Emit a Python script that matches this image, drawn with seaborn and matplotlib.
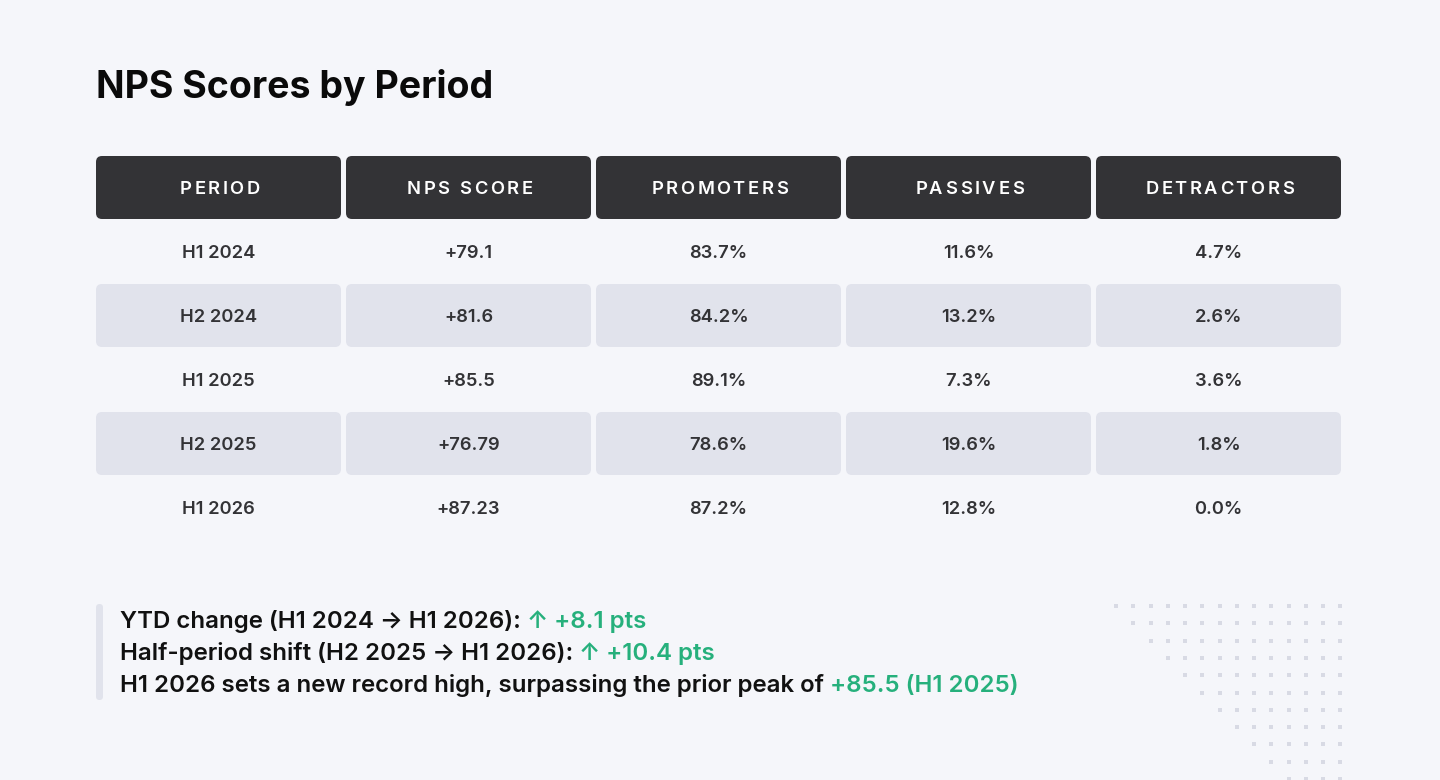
import numpy as np
import pandas as pd
import matplotlib.pyplot as plt
import seaborn as sns
from matplotlib import transforms
from matplotlib.patches import FancyBboxPatch
from matplotlib.font_manager import FontProperties, findfont
from matplotlib.ft2font import FT2Font

# Data
periods = ["H1 2024", "H2 2024", "H1 2025", "H2 2025", "H1 2026"]
nps_score = [79.1, 81.6, 85.5, 76.79, 87.23]
promoters = [83.7, 84.2, 89.1, 78.6, 87.2]
passives = [11.6, 13.2, 7.3, 19.6, 12.8]
detractors = [4.7, 2.6, 3.6, 1.8, 0.0]
columns = ["PERIOD", "NPS SCORE", "PROMOTERS", "PASSIVES", "DETRACTORS"]

BG = "#f5f6fa"
HEAD = "#333336"
BAND = "#e1e3ec"
TEXT = "#333336"
INK = "#111111"
GREEN = "#26b07c"
DOT = "#d8dae4"
FONT = ["Inter", "DejaVu Sans"]

sns.set_theme(style="white", rc={"figure.facecolor": BG, "axes.facecolor": BG})
plt.rcParams["font.family"] = FONT

W, H = 1440, 780
fig = plt.figure(figsize=(W / 100, H / 100), dpi=100)

# page axes in pixel units, for title / footer / decoration
page = fig.add_axes([0, 0, 1, 1])
page.set_xlim(0, W)
page.set_ylim(H, 0)
page.axis("off")

page.text(96, 98, "NPS Scores by Period", fontsize=27, fontweight="bold",
          color="#0a0a0a", va="baseline", ha="left")

# table axes: one unit per column, one unit per row
col_px, row_px = 250, 64
n_rows = len(periods) + 1
tab = fig.add_axes([96 / W, 1 - (156 + n_rows * row_px) / H,
                    5 * col_px / W, n_rows * row_px / H])
tab.set_xlim(0, 5)
tab.set_ylim(n_rows, 0)
tab.axis("off")

cw, ch = 245 / col_px, 63 / row_px
rnd = 6 / col_px
asp = col_px / row_px
ymid = 0.53


def cell(x, y, color):
    tab.add_patch(FancyBboxPatch((x, y), cw, ch,
                                 boxstyle=f"round,pad=0,rounding_size={rnd}",
                                 mutation_aspect=asp, fc=color, ec="none"))


def spaced(ax, x, y, s, size, tracking, color, weight):
    fp = FontProperties(family=FONT, weight=weight, size=size)
    font = FT2Font(findfont(fp))
    font.set_size(size, fig.dpi)
    glyphs = [font.load_char(ord(c)) for c in s]
    adv = [g.linearHoriAdvance / 65536 for g in glyphs]
    bear = [g.horiBearingX / 64 for g in glyphs]
    pos = -(sum(adv) + tracking * (len(s) - 1)) / 2
    for c, a, b in zip(s, adv, bear):
        if c != " ":
            tr = transforms.offset_copy(ax.transData, fig=fig, x=pos + b, y=0, units="dots")
            ax.text(x, y, c, transform=tr, ha="left", va="center",
                    fontsize=size, fontweight=weight, color=color)
        pos += a + tracking


for j, name in enumerate(columns):
    cell(j, 0, HEAD)
    spaced(tab, j + cw / 2, ymid, name, 13.2, 2.6, "white", 600)

table = pd.DataFrame({
    "period": periods,
    "nps": [f"+{v:g}" for v in nps_score],
    "prom": [f"{v:.1f}%" for v in promoters],
    "pass": [f"{v:.1f}%" for v in passives],
    "det": [f"{v:.1f}%" for v in detractors],
})

for i, row in enumerate(table.itertuples(index=False)):
    y = i + 1
    for j, val in enumerate(row):
        if i % 2 == 1:
            cell(j, y, BAND)
        tab.text(j + cw / 2, y + ymid, val, ha="center", va="center",
                 fontsize=13.2, fontweight=600, color=TEXT)

# footer notes
page.add_patch(FancyBboxPatch((96, 604), 7, 96, boxstyle="round,pad=0,rounding_size=3.5",
                              fc=BAND, ec="none"))

ytd = nps_score[-1] - nps_score[0]
shift = nps_score[-1] - nps_score[-2]
k = int(np.argmax(nps_score[:-1]))
notes = [
    (f"YTD change ({periods[0]} \u2192 {periods[-1]}):", f" \u2191 +{ytd:.1f} pts"),
    (f"Half-period shift ({periods[-2]} \u2192 {periods[-1]}):", f" \u2191 +{shift:.1f} pts"),
    (f"{periods[-1]} sets a new record high, surpassing the prior peak of",
     f" +{nps_score[k]:g} ({periods[k]})"),
]
for n, (black, green) in enumerate(notes):
    t = page.text(120, 628 + 32 * n, black, fontsize=17.3, fontweight=600,
                  color=INK, ha="left", va="baseline")
    page.annotate(green, xy=(1, 0), xycoords=t, ha="left", va="bottom",
                  fontsize=17.3, fontweight=600, color=GREEN)

# dotted decoration
dots = pd.DataFrame([(c, r) for r in range(11) for c in range(r, 14)], columns=["c", "r"])
dots["x"] = 1116 + dots["c"] * 17.25
dots["y"] = 606 + dots["r"] * 17.3
sns.scatterplot(data=dots, x="x", y="y", ax=page, marker="s", s=10, color=DOT,
                linewidth=0, legend=False)
page.set_xlim(0, W)
page.set_ylim(H, 0)
page.axis("off")

fig.savefig("out.png", dpi=100, facecolor=BG)
